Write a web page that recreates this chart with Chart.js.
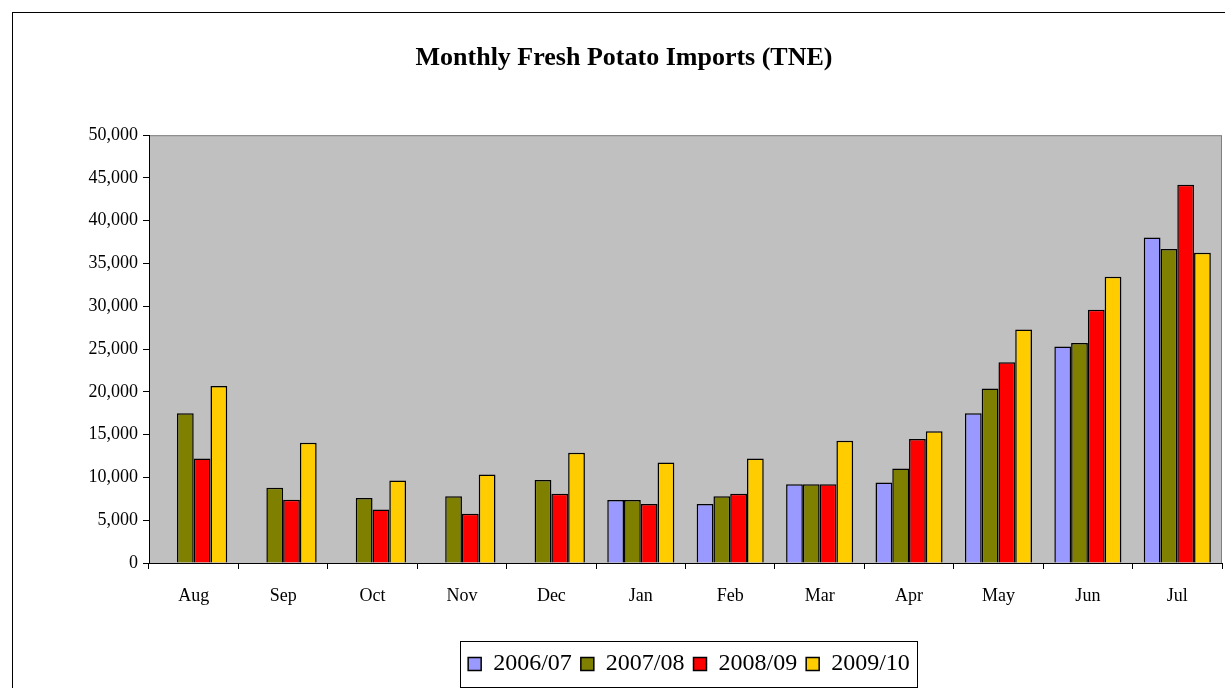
<!DOCTYPE html>
<html>
<head>
<meta charset="utf-8">
<script src="https://cdn.jsdelivr.net/npm/chart.js@4.4.1/dist/chart.umd.min.js"></script>
<style>
html,body{margin:0;padding:0;background:#fff;}
#wrap{width:1225px;height:688px;position:relative;}
</style>
</head>
<body>
<div id="wrap"><canvas id="c" width="1225" height="688"></canvas></div>
<script>
const months = ['Aug','Sep','Oct','Nov','Dec','Jan','Feb','Mar','Apr','May','Jun','Jul'];
const seriesNames = ['2006/07','2007/08','2008/09','2009/10'];
const s2006 = [null,null,null,null,null,7350,6900,9200,9400,17500,25300,38050];
const s2007 = [17500,8800,7600,7800,9700,7350,7800,9200,11050,20400,25700,36700];
const s2008 = [12200,7400,6250,5750,8100,6900,8100,9200,14500,23450,29600,44200];
const s2009 = [20700,14050,9650,10350,12900,11750,12200,14300,15400,27300,33450,36250];
const seriesColors = ['#9999FF','#808000','#FF0000','#FFCC00'];
const yTicksMax = 50000, yStep = 5000;

const serif = '"Liberation Serif","Times New Roman",serif';

const frame = {
  id:'frame',
  afterLayout(chart){
    const lg = chart.legend;
    if(lg){ lg.left += 78; lg.right += 78; }
    const t = chart.titleBlock;
    if(t){ t.left += 13; t.right += 13; }
  },
  beforeDraw(chart){
    const ctx = chart.ctx, a = chart.chartArea;
    ctx.save();
    ctx.fillStyle = '#fff';
    ctx.fillRect(0,0,chart.width,chart.height);
    ctx.strokeStyle = '#000';
    ctx.lineWidth = 1;
    ctx.strokeRect(12.5,12.5,1400,900);
    ctx.fillStyle = '#C0C0C0';
    ctx.fillRect(a.left,a.top,a.right-a.left,a.bottom-a.top);
    ctx.strokeStyle = '#808080';
    ctx.strokeRect(a.left+0.5,a.top+0.5,a.right-a.left-1,a.bottom-a.top);
    ctx.restore();
  },
  afterDraw(chart){
    const lg = chart.legend;
    if(!lg || !lg.legendHitBoxes) return;
    const hb = lg.legendHitBoxes;
    let x0=Infinity,x1=-Infinity,y0=Infinity,y1=-Infinity;
    hb.forEach(b=>{x0=Math.min(x0,b.left);x1=Math.max(x1,b.left+b.width);y0=Math.min(y0,b.top);y1=Math.max(y1,b.top+b.height);});
    const ctx = chart.ctx;
    ctx.save();
    ctx.strokeStyle='#000';ctx.lineWidth=1;
    const cy = (y0+y1)/2;
    ctx.strokeRect(Math.round(x0-8)+0.5,Math.round(cy-23)+0.5,Math.round(x1-x0+15),46);
    ctx.restore();
  }
};

const data = {
  labels: months,
  datasets: [s2006,s2007,s2008,s2009].map((d,i)=>({
    label: seriesNames[i],
    data: d,
    backgroundColor: seriesColors[i],
    borderColor: '#000',
    borderWidth: 1.5,
    barPercentage: 1.0,
    categoryPercentage: 0.75
  }))
};

new Chart(document.getElementById('c'), {
  type:'bar',
  data,
  plugins:[frame],
  options:{
    responsive:false,
    animation:false,
    layout:{padding:{left:0,right:3,top:0,bottom:2}},
    plugins:{
      title:{display:true,text:'Monthly Fresh Potato Imports (TNE)',color:'#000',
        font:{family:serif,size:26,weight:'bold'},padding:{top:43,bottom:61}},
      legend:{position:'bottom',
        labels:{color:'#000',font:{family:serif,size:24},boxWidth:13,boxHeight:13,padding:9,
          generateLabels(chart){
            return chart.data.datasets.map((ds,i)=>({text:ds.label,fillStyle:ds.backgroundColor,strokeStyle:'#000',lineWidth:1.5,datasetIndex:i,fontColor:'#000'}));
          }}},
      tooltip:{enabled:false}
    },
    scales:{
      x:{
        afterFit(s){ s.height = 80; },
        grid:{display:true,drawOnChartArea:false,offset:true,tickLength:6,color:'#000',tickColor:'#000'},
        border:{display:true,color:'#000',width:1},
        ticks:{color:'#000',font:{family:serif,size:18},padding:16,maxRotation:0}
      },
      y:{
        min:0,max:yTicksMax,
        afterFit(s){ s.width = 149; },
        grid:{display:true,drawOnChartArea:false,tickLength:6,color:'#000',tickColor:'#000'},
        border:{display:true,color:'#000',width:1},
        ticks:{stepSize:yStep,color:'#000',font:{family:serif,size:18},padding:5,
          callback:v=>v.toLocaleString('en-US')}
      }
    }
  }
});
</script>
</body>
</html>
